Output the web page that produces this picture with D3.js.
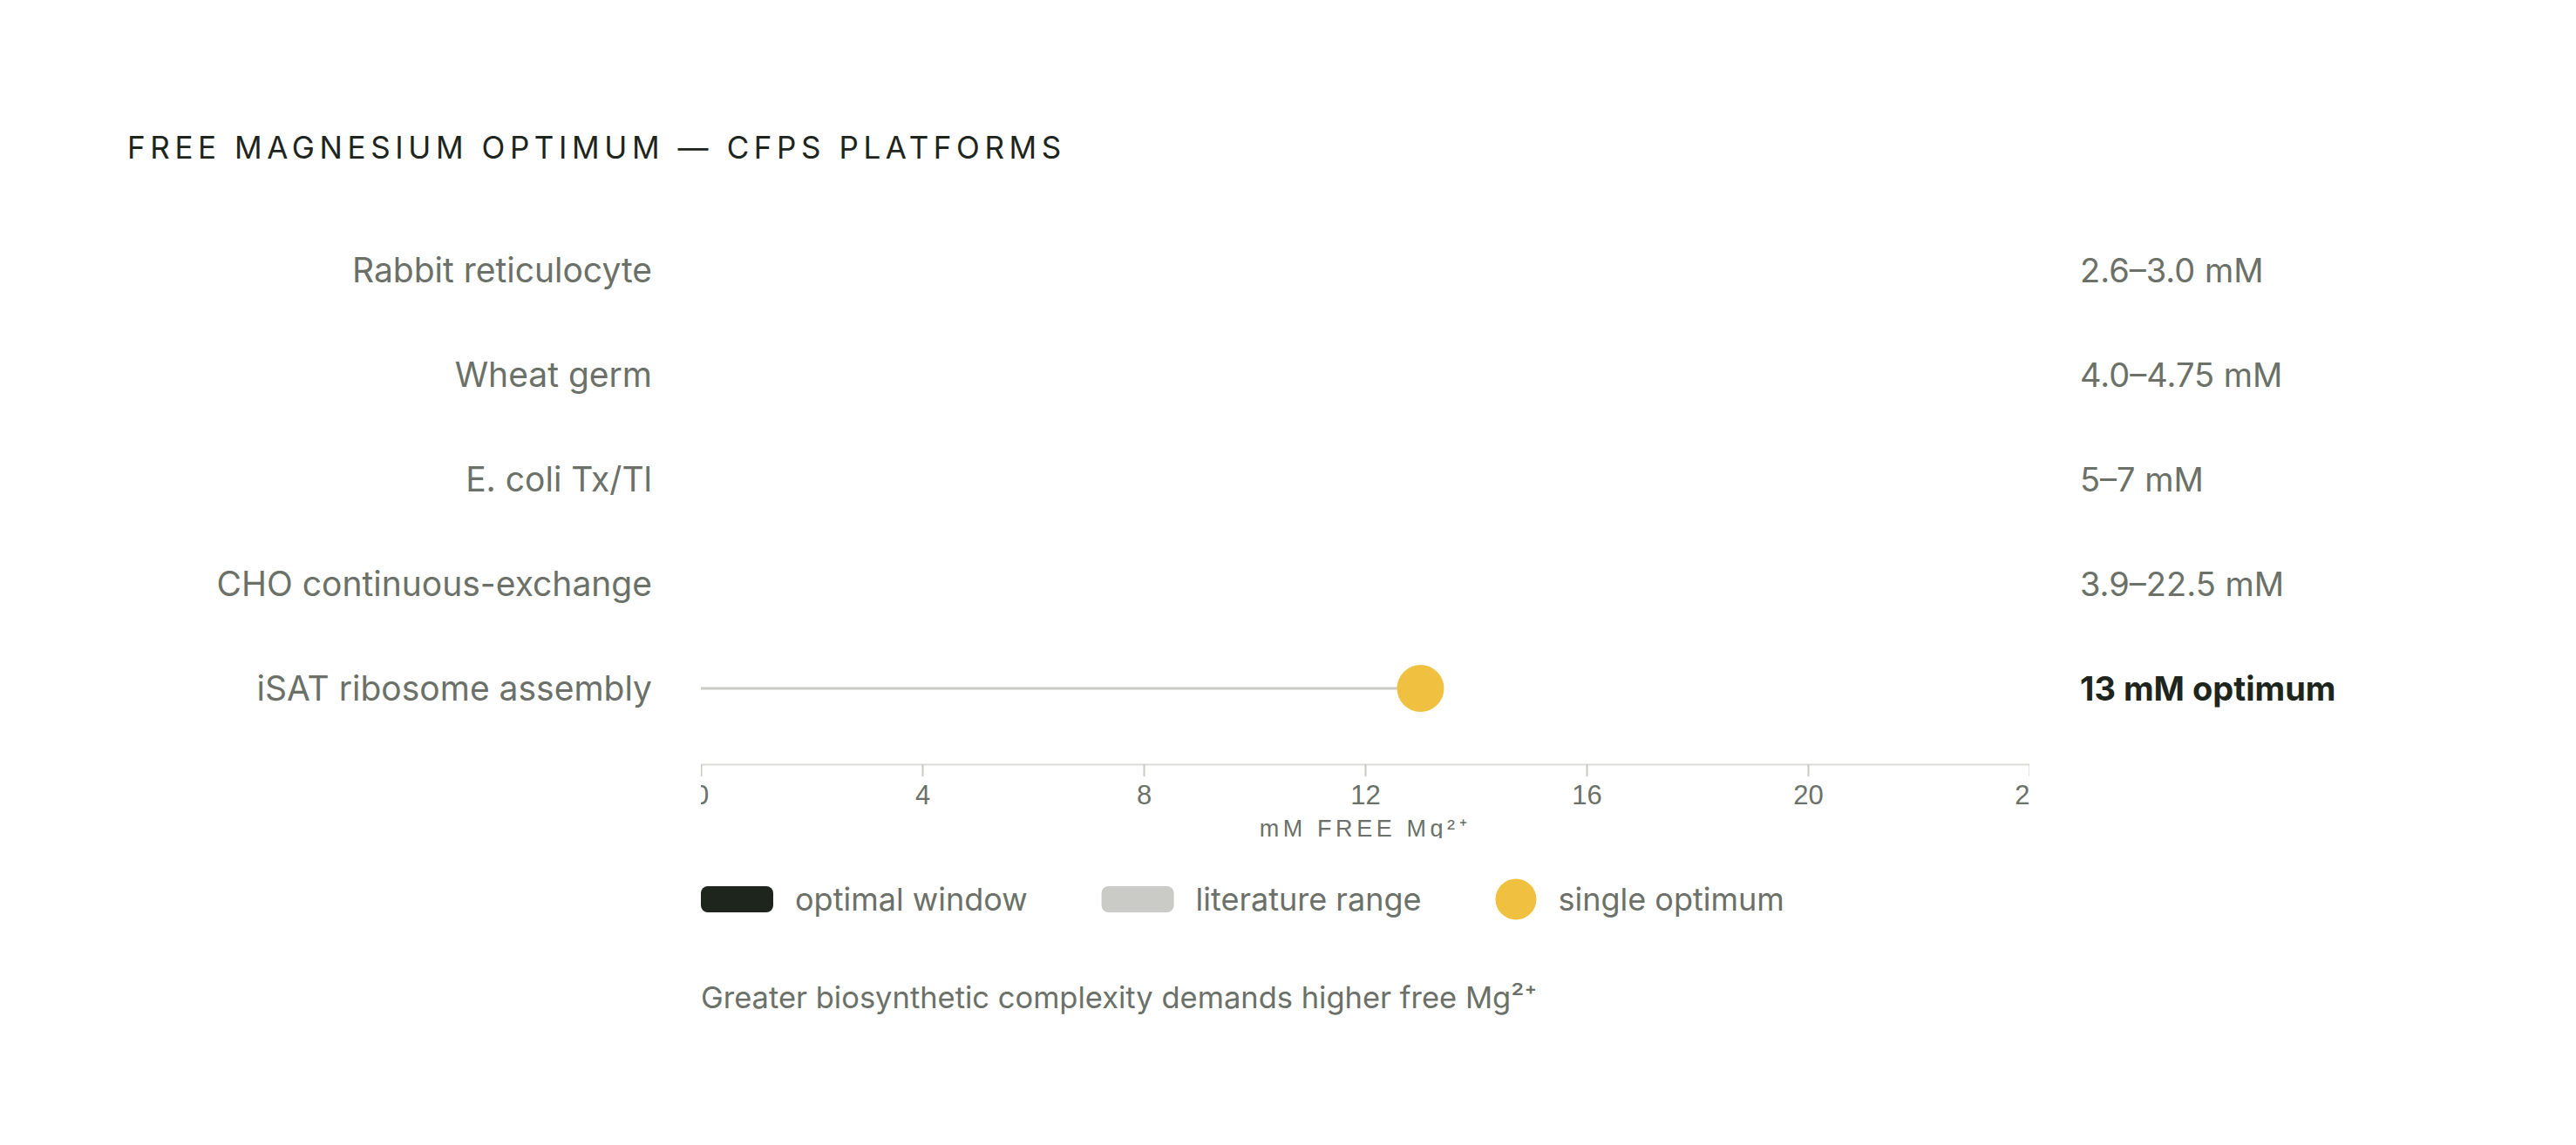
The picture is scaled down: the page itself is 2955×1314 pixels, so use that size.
<!DOCTYPE html>
<html>
<head>
<meta charset="utf-8">
<script src="https://cdn.jsdelivr.net/npm/d3@7"></script>
<style>
  html, body { margin: 0; padding: 0; background: #fff; }
  svg { display: block; }
</style>
</head>
<body>
<svg id="chart"></svg>
<script>
// platforms, top to bottom
const platforms = ['Rabbit reticulocyte', 'Wheat germ', 'E. coli Tx/Tl', 'CHO continuous-exchange', 'iSAT ribosome assembly'];
// literature ranges (mM free Mg2+), null where only one optimum is reported
const rangeLow = [2.6, 4.0, 5, 3.9, null];
const rangeHigh = [3.0, 4.75, 7, 22.5, null];
const singleOptimum = [null, null, null, null, 13];
const valueLabels = ['2.6–3.0 mM', '4.0–4.75 mM', '5–7 mM', '3.9–22.5 mM', '13 mM optimum'];
const xTicks = [0, 4, 8, 12, 16, 20, 24];
const legendItems = ['optimal window', 'literature range', 'single optimum'];

const width = 2955,
  height = 1314;

const ink = '#1e251c',
  muted = '#6b7068',
  rangeGrey = '#cacbc7',
  gold = '#f0c040',
  font = "Inter, 'Noto Sans', sans-serif";

const plot = { left: 804, top: 250, width: 1524, height: 712 };

const svg = d3.select('#chart')
  .attr('width', width)
  .attr('height', height)
  .style('font-family', font);

svg.append('text')
  .attr('x', 146)
  .attr('y', 182)
  .attr('fill', ink)
  .style('font-size', '35px')
  .style('letter-spacing', '0.16em')
  .text('FREE MAGNESIUM OPTIMUM — CFPS PLATFORMS');

const y = d3.scalePoint()
  .domain(platforms)
  .range([310, 790]);

const x = d3.scaleLinear()
  .domain([0, 24])
  .range([0, plot.width]);

const rows = platforms.map((p, i) => ({
  name: p,
  lo: rangeLow[i],
  hi: rangeHigh[i],
  opt: singleOptimum[i],
  label: valueLabels[i]
}));

// row names on the left
svg.append('g')
  .selectAll('text')
  .data(rows)
  .join('text')
  .attr('x', 748)
  .attr('y', d => y(d.name))
  .attr('dy', '0.36em')
  .attr('text-anchor', 'end')
  .attr('fill', muted)
  .style('font-size', '39px')
  .text(d => d.name);

// value readouts on the right
svg.append('g')
  .selectAll('text')
  .data(rows)
  .join('text')
  .attr('x', 2386)
  .attr('y', d => y(d.name))
  .attr('dy', '0.36em')
  .attr('fill', d => d.opt != null ? ink : muted)
  .style('font-size', '38px')
  .style('font-weight', d => d.opt != null ? 700 : 400)
  .text(d => d.label);

// plot area clips its own overflow (cuts the end tick labels)
const area = svg.append('svg')
  .attr('x', plot.left)
  .attr('y', plot.top)
  .attr('width', plot.width)
  .attr('height', plot.height)
  .style('overflow', 'hidden');

const axisY = 877 - plot.top;

const axis = area.append('g')
  .attr('transform', 'translate(0,' + axisY + ')')
  .call(d3.axisBottom(x).tickValues(xTicks).tickSize(14).tickSizeOuter(0).tickPadding(10));

axis.select('.domain')
  .attr('stroke', '#dcdcda')
  .attr('stroke-width', 2);
axis.selectAll('.tick line')
  .attr('stroke', '#c9cac6')
  .attr('stroke-width', 2);
axis.selectAll('.tick text')
  .attr('fill', muted)
  .style('font-family', "'Liberation Sans', Arial, sans-serif")
  .style('font-size', '31px');

area.append('text')
  .attr('x', x(12))
  .attr('y', 960 - plot.top)
  .attr('text-anchor', 'middle')
  .attr('fill', muted)
  .style('font-family', "'Liberation Sans', Arial, sans-serif")
  .style('font-size', '27px')
  .style('letter-spacing', '0.17em')
  .text('mM FREE Mg²⁺');

// single optimum: leader from zero plus dot
const opts = rows.filter(d => d.opt != null);

area.append('g')
  .selectAll('line')
  .data(opts)
  .join('line')
  .attr('x1', x(0))
  .attr('x2', d => x(d.opt))
  .attr('y1', d => y(d.name) - plot.top)
  .attr('y2', d => y(d.name) - plot.top)
  .attr('stroke', rangeGrey)
  .attr('stroke-width', 3);

area.append('g')
  .selectAll('circle')
  .data(opts)
  .join('circle')
  .attr('cx', d => x(d.opt))
  .attr('cy', d => y(d.name) - plot.top)
  .attr('r', 27)
  .attr('fill', gold);

// legend
const legend = svg.append('g')
  .attr('transform', 'translate(' + plot.left + ',1032)');

let lx = 0;
legendItems.forEach((name, i) => {
  const item = legend.append('g').attr('transform', 'translate(' + lx + ',0)');
  let keyW;
  if (i < 2) {
    keyW = 83;
    item.append('rect')
      .attr('x', 0)
      .attr('y', -15)
      .attr('width', keyW)
      .attr('height', 30)
      .attr('rx', 8)
      .attr('fill', i === 0 ? ink : rangeGrey);
  } else {
    keyW = 47;
    item.append('circle')
      .attr('cx', 23.5)
      .attr('cy', 0)
      .attr('r', 23.5)
      .attr('fill', gold);
  }
  const t = item.append('text')
    .attr('x', keyW + 25)
    .attr('dy', '0.36em')
    .attr('fill', muted)
    .style('font-size', '36px')
    .text(name);
  lx += keyW + 25 + t.node().getComputedTextLength() + 85;
});

svg.append('text')
  .attr('x', plot.left)
  .attr('y', 1157)
  .attr('fill', muted)
  .style('font-size', '34.5px')
  .text('Greater biosynthetic complexity demands higher free Mg²⁺');
</script>
</body>
</html>
